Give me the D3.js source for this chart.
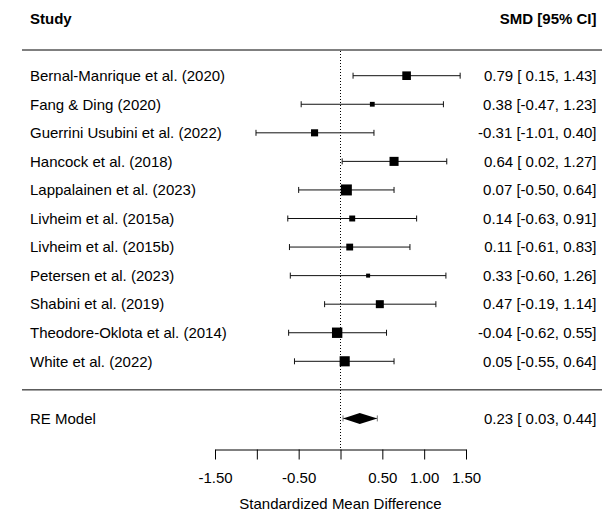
<!DOCTYPE html>
<html>
<head>
<meta charset="utf-8">
<script src="https://cdn.jsdelivr.net/npm/d3@7/dist/d3.min.js"></script>
<style>
  html, body { margin: 0; padding: 0; background: #fff; }
  svg { display: block; font-family: "Liberation Sans", Arial, Helvetica, sans-serif; }
  text { white-space: pre; }
</style>
</head>
<body>
<svg id="chart" width="602" height="511"></svg>
<script>
// Study-level standardized mean differences with 95% confidence intervals
const studies = [
  "Bernal-Manrique et al. (2020)",
  "Fang & Ding (2020)",
  "Guerrini Usubini et al. (2022)",
  "Hancock et al. (2018)",
  "Lappalainen et al. (2023)",
  "Livheim et al. (2015a)",
  "Livheim et al. (2015b)",
  "Petersen et al. (2023)",
  "Shabini et al. (2019)",
  "Theodore-Oklota et al. (2014)",
  "White et al. (2022)"
];
const smd     = [0.79, 0.38, -0.31, 0.64, 0.07, 0.14, 0.11, 0.33, 0.47, -0.04, 0.05];
const ciLower = [0.15, -0.47, -1.01, 0.02, -0.50, -0.63, -0.61, -0.60, -0.19, -0.62, -0.55];
const ciUpper = [1.43, 1.23, 0.40, 1.27, 0.64, 0.91, 0.83, 1.26, 1.14, 0.55, 0.64];
// model weights (%), used to size the study squares
const weights = [10.0, 5.7, 8.3, 10.5, 12.7, 7.0, 8.0, 4.8, 9.3, 12.0, 11.7];

// random-effects summary
const reLabel = "RE Model";
const reEstimate = 0.23;
const reLower = 0.03;
const reUpper = 0.44;

const tickValues = [-1.5, -1.0, -0.5, 0, 0.5, 1.0, 1.5];
const tickLabels = ["-1.50", "", "-0.50", "", "0.50", "1.00", "1.50"];
const xTitle = "Standardized Mean Difference";
const headerLeft = "Study";
const headerRight = "SMD [95% CI]";

const svg = d3.select("#chart");
const fontSize = 15;
const leftX = 30, rightX = 596.5;

const x = d3.scaleLinear().domain([-1.5, 1.5]).range([215, 466]);
// row index -> vertical position (0 = first study)
const row = d3.scaleLinear().domain([0, 10]).range([75.7, 361.3]);
const size = d3.scaleLinear().domain(d3.extent(weights)).range([4, 11]);

const rowSummary = 12;
const rowSeparator = 11;
const rowHeader = -2;
const yTopRule = 50;
const yAxis = 449.5;

// two decimals with an ASCII hyphen for negatives
const fmt = v => (v < 0 ? "-" : "") + Math.abs(v).toFixed(2);
const padLow = v => (v >= 0 ? " " : "") + fmt(v);
const annot = (e, lo, hi) => `${fmt(e)} [${padLow(lo)}, ${fmt(hi)}]`;

// header
svg.append("text").attr("x", leftX).attr("y", row(rowHeader)).attr("dy", "0.35em")
  .attr("font-size", fontSize).attr("font-weight", "bold").text(headerLeft);
svg.append("text").attr("x", rightX).attr("y", row(rowHeader)).attr("dy", "0.35em")
  .attr("text-anchor", "end").attr("font-size", fontSize).attr("font-weight", "bold").text(headerRight);

// horizontal rules
svg.append("line").attr("x1", 22).attr("x2", 602).attr("y1", yTopRule).attr("y2", yTopRule)
  .attr("stroke", "#000").attr("stroke-width", 1);
svg.append("line").attr("x1", 22).attr("x2", 602)
  .attr("y1", row(rowSeparator)).attr("y2", row(rowSeparator))
  .attr("stroke", "#000").attr("stroke-width", 1);

// reference line at zero
svg.append("line").attr("x1", x(0)).attr("x2", x(0)).attr("y1", yTopRule + 1).attr("y2", yAxis)
  .attr("stroke", "#000").attr("stroke-width", 1).attr("stroke-dasharray", "1,2");

const data = studies.map((s, i) => ({
  study: s, est: smd[i], lo: ciLower[i], hi: ciUpper[i], w: weights[i], i
}));

const g = svg.append("g").selectAll("g").data(data).join("g");

// study labels
g.append("text").attr("x", leftX).attr("y", d => row(d.i)).attr("dy", "0.35em")
  .attr("font-size", fontSize).text(d => d.study);

// annotations
g.append("text").attr("x", rightX).attr("y", d => row(d.i)).attr("dy", "0.35em")
  .attr("text-anchor", "end").attr("font-size", fontSize)
  .text(d => annot(d.est, d.lo, d.hi));

// confidence intervals
const capH = 3;
g.append("line").attr("x1", d => x(d.lo)).attr("x2", d => x(d.hi))
  .attr("y1", d => row(d.i)).attr("y2", d => row(d.i))
  .attr("stroke", "#111").attr("stroke-width", 1);
g.append("line").attr("x1", d => x(d.lo)).attr("x2", d => x(d.lo))
  .attr("y1", d => row(d.i) - capH).attr("y2", d => row(d.i) + capH)
  .attr("stroke", "#111").attr("stroke-width", 1);
g.append("line").attr("x1", d => x(d.hi)).attr("x2", d => x(d.hi))
  .attr("y1", d => row(d.i) - capH).attr("y2", d => row(d.i) + capH)
  .attr("stroke", "#111").attr("stroke-width", 1);

// point estimates
g.append("rect")
  .attr("x", d => x(d.est) - size(d.w) / 2)
  .attr("y", d => row(d.i) - size(d.w) / 2)
  .attr("width", d => size(d.w)).attr("height", d => size(d.w))
  .attr("fill", "#000");

// summary row
const ySum = row(rowSummary);
svg.append("text").attr("x", leftX).attr("y", ySum).attr("dy", "0.35em")
  .attr("font-size", fontSize).text(reLabel);
svg.append("text").attr("x", rightX).attr("y", ySum).attr("dy", "0.35em")
  .attr("text-anchor", "end").attr("font-size", fontSize)
  .text(annot(reEstimate, reLower, reUpper));

svg.append("line").attr("x1", x(reLower)).attr("x2", x(reUpper))
  .attr("y1", ySum).attr("y2", ySum).attr("stroke", "#777").attr("stroke-width", 1);
[reLower, reUpper].forEach(v => {
  svg.append("line").attr("x1", x(v)).attr("x2", x(v))
    .attr("y1", ySum - 3).attr("y2", ySum + 3)
    .attr("stroke", "#777").attr("stroke-width", 1);
});
const dh = 5.5;
svg.append("path")
  .attr("d", d3.line()([
    [x(reLower), ySum], [x(reEstimate), ySum - dh],
    [x(reUpper), ySum], [x(reEstimate), ySum + dh]
  ]) + "Z")
  .attr("fill", "#000");

// x axis
const axis = d3.axisBottom(x)
  .tickValues(tickValues)
  .tickFormat((d, i) => tickLabels[i])
  .tickSize(10).tickSizeOuter(0).tickPadding(13);
const ax = svg.append("g").attr("transform", `translate(0,${yAxis})`).call(axis);
ax.attr("font-family", null).attr("font-size", null);
ax.selectAll("text").attr("font-size", fontSize).attr("fill", "#000");
ax.selectAll("line, path").attr("stroke", "#000");

svg.append("text").attr("x", x(0)).attr("y", 504).attr("dy", "0.35em")
  .attr("text-anchor", "middle").attr("font-size", fontSize).text(xTitle);
</script>
</body>
</html>
